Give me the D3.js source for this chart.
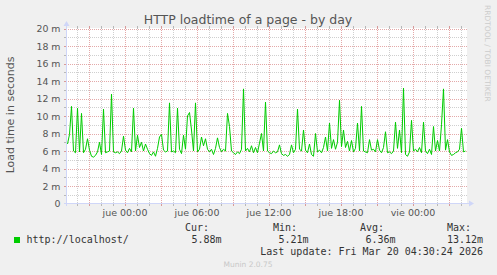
<!DOCTYPE html>
<html>
<head>
<meta charset="utf-8">
<script src="https://cdn.jsdelivr.net/npm/d3@7"></script>
<style>
  body { margin: 0; background: #f0f0f0; }
  svg { display: block; }
  text { font-family: "DejaVu Sans", sans-serif; }
  .mono { font-family: "DejaVu Sans Mono", monospace; }
</style>
</head>
<body>
<svg id="chart" width="497" height="275"></svg>
<script>
// load time in milliseconds, one sample per 10 minutes
const loadtime = [
  6.8, 7.9, 11.1, 6.0, 5.8, 10.9, 5.9, 10.3, 5.8, 6.2,
  7.4, 6.1, 5.4, 5.3, 5.5, 5.9, 7.0, 5.6, 10.8, 5.8,
  5.9, 6.0, 12.5, 5.9, 5.8, 5.9, 5.7, 6.0, 7.7, 6.1,
  5.8, 6.3, 5.9, 10.9, 6.0, 7.8, 6.4, 7.0, 6.0, 6.8,
  6.2, 5.7, 5.5, 5.9, 5.4, 6.3, 7.6, 7.9, 6.1, 5.9,
  6.0, 11.5, 5.9, 6.0, 5.8, 10.9, 6.2, 5.7, 7.8, 6.2,
  10.0, 10.4, 8.4, 6.0, 11.5, 5.9, 6.2, 7.6, 6.6, 7.4,
  6.2, 5.9, 6.2, 5.6, 6.3, 7.5, 6.4, 5.9, 6.2, 6.0,
  10.3, 8.8, 6.0, 5.8, 5.6, 5.9, 5.7, 6.2, 13.1, 6.0,
  6.3, 5.9, 6.6, 5.8, 6.4, 5.8, 6.9, 8.0, 6.0, 11.6,
  6.0, 5.8, 5.7, 6.0, 5.8, 5.9, 6.7, 5.7, 5.5, 5.6,
  5.4, 5.6, 6.7, 5.8, 6.2, 10.8, 6.2, 6.0, 8.4, 6.1,
  5.8, 6.8, 5.6, 5.4, 8.0, 5.9, 6.1, 5.8, 6.4, 7.6,
  6.0, 9.2, 6.3, 7.3, 6.2, 7.0, 11.8, 6.5, 8.4, 6.4,
  7.1, 6.0, 7.2, 5.9, 6.3, 9.2, 6.0, 11.1, 6.0, 5.9,
  5.8, 7.3, 6.1, 6.2, 5.9, 7.3, 6.1, 5.8, 6.4, 8.2,
  5.8, 5.9, 5.7, 6.0, 9.3, 6.3, 8.4, 5.8, 13.2, 5.6,
  5.4, 5.9, 9.5, 6.0, 6.2, 5.9, 6.4, 5.8, 9.3, 6.0,
  5.7, 6.2, 5.6, 8.8, 6.0, 7.2, 6.0, 9.0, 13.1, 6.1,
  7.3, 5.9, 5.5, 5.6, 5.8, 5.9, 6.2, 8.6, 5.9, 6.0
]
const stepMinutes = 10
const yTicks = [0, 2, 4, 6, 8, 10, 12, 14, 16, 18, 20]
const xTickLabels = ['jue 00:00', 'jue 06:00', 'jue 12:00', 'jue 18:00', 'vie 00:00']
const legendHeads = ['Cur:', 'Min:', 'Avg:', 'Max:']
const legendValues = ['5.88m', '5.21m', '6.36m', '13.12m']

const endTime = new Date(2026, 2, 20, 4, 35)
const startTime = new Date(+endTime - 400 * 5 * 60000)
const points = loadtime.map((v, i) => ({ t: new Date(+startTime + i * stepMinutes * 60000), v }))

const svg = d3.select('#chart')
const pLeft = 67, pRight = 467, pTop = 28, pBottom = 203

const x = d3.scaleTime().domain([startTime, endTime]).range([pLeft + 0.5, pRight + 0.5])
const y = d3.scaleLinear().domain([0, 20]).range([pBottom + 0.5, pTop + 0.5])

svg.append('rect').attr('width', 497).attr('height', 275).attr('fill', '#f0f0f0')
svg.append('rect').attr('x', pLeft).attr('y', pTop).attr('width', pRight - pLeft).attr('height', pBottom - pTop + 1).attr('fill', '#fff')

// grid: dotted lines plus short solid ticks at the ends
const gridStyle = (g, color) => {
  g.select('.domain').remove()
  g.selectAll('.tick line').attr('stroke', color).attr('stroke-dasharray', '1,1').attr('shape-rendering', 'crispEdges')
  g.selectAll('.tick text').remove()
}
const tickStyle = (g, color) => {
  g.select('.domain').remove()
  g.selectAll('.tick line').attr('stroke', color).attr('shape-rendering', 'crispEdges')
  g.selectAll('.tick text').remove()
}
const minorY = d3.range(1, 20, 2)
const hourTicks = d3.timeHour.range(startTime, endTime)
const minorX = hourTicks.filter(d => d.getHours() % 3)
const majorX = hourTicks.filter(d => d.getHours() % 3 === 0)

const addGrid = (yVals, xVals, color, tickColor) => {
  svg.append('g').attr('transform', `translate(${pRight},0)`)
    .call(d3.axisLeft(y).tickValues(yVals).tickSize(pRight - 64))
    .call(gridStyle, color)
  svg.append('g').attr('transform', `translate(0,${pTop})`)
    .call(d3.axisBottom(x).tickValues(xVals).tickSize(pBottom + 3 - pTop))
    .call(gridStyle, color)
  svg.append('g').attr('transform', `translate(${pLeft},0)`)
    .call(d3.axisLeft(y).tickValues(yVals).tickSize(3))
    .call(tickStyle, tickColor)
  svg.append('g').attr('transform', `translate(0,${pTop - 2})`)
    .call(d3.axisBottom(x).tickValues(xVals).tickSize(3))
    .call(tickStyle, tickColor)
  svg.append('g').attr('transform', `translate(0,${pBottom})`)
    .call(d3.axisBottom(x).tickValues(xVals).tickSize(3))
    .call(tickStyle, tickColor)
}
addGrid(minorY, minorX, '#cfcfcf', '#b8b8b8')
addGrid(yTicks.slice(1), majorX, '#e4a9a9', '#d99a9a')

// data line
svg.append('path').datum(points)
  .attr('fill', 'none').attr('stroke', '#00cc00').attr('stroke-width', 1)
  .attr('d', d3.line().x(d => x(d.t)).y(d => y(d.v)))

// axes lines with arrows
const axisColor = '#cfd6f8'
svg.append('line').attr('x1', 64).attr('x2', pRight + 3).attr('y1', pBottom + 0.5).attr('y2', pBottom + 0.5).attr('stroke', axisColor)
svg.append('line').attr('x1', pLeft - 0.5).attr('x2', pLeft - 0.5).attr('y1', pBottom + 3).attr('y2', pTop - 3).attr('stroke', axisColor)
svg.append('path').attr('d', `M${pRight + 2},${pBottom - 2.5}L${pRight + 7},${pBottom + 0.5}L${pRight + 2},${pBottom + 3.5}Z`).attr('fill', axisColor)
svg.append('path').attr('d', `M${pLeft - 3.5},${pTop - 2}L${pLeft - 0.5},${pTop - 7}L${pLeft + 2.5},${pTop - 2}Z`).attr('fill', axisColor)

// tick labels
const yAxis = svg.append('g').attr('transform', `translate(${pLeft},0)`)
  .call(d3.axisLeft(y).tickValues(yTicks).tickSize(0).tickPadding(6.5).tickFormat(v => v === 0 ? '0' : v + ' m'))
yAxis.select('.domain').remove()
yAxis.selectAll('text').attr('fill', '#555').style('font-size', '9.4px').style('font-family', 'DejaVu Sans')

const labelDates = xTickLabels.map((s, i) => new Date(2026, 2, 19, i * 6))
const xAxis = svg.append('g').attr('transform', `translate(0,${pBottom})`)
  .call(d3.axisBottom(x).tickValues(labelDates).tickSize(0).tickPadding(6).tickFormat((d, i) => xTickLabels[i]))
xAxis.select('.domain').remove()
xAxis.selectAll('text').attr('fill', '#555').style('font-size', '9.5px').style('font-family', 'DejaVu Sans')

// title and labels
svg.append('text').attr('x', 248).attr('y', 24).attr('text-anchor', 'middle')
  .attr('fill', '#555').style('font-size', '12.5px').text('HTTP loadtime of a page - by day')
svg.append('text').attr('transform', 'translate(14,115) rotate(-90)').attr('text-anchor', 'middle')
  .attr('fill', '#555').style('font-size', '11px').text('Load time in seconds')
svg.append('text').attr('transform', 'translate(485,5) rotate(90)')
  .attr('fill', '#ccc').style('font-size', '7.5px').text('RRDTOOL / TOBI OETIKER')

// legend
svg.append('rect').attr('x', 14).attr('y', 237).attr('width', 6).attr('height', 6).attr('fill', '#00cc00')
svg.append('text').attr('class', 'mono').attr('x', 26.5).attr('y', 243)
  .attr('fill', '#333').style('font-size', '10px').text('http://localhost/')
const headX = [185, 273, 360, 447]
const valX = [221.5, 308.5, 395.5, 483]
svg.selectAll('text.head').data(legendHeads).join('text')
  .attr('class', 'head mono').attr('x', (d, i) => headX[i]).attr('y', 231)
  .attr('fill', '#333').style('font-size', '10px').text(d => d)
svg.selectAll('text.val').data(legendValues).join('text')
  .attr('class', 'val mono').attr('x', (d, i) => valX[i]).attr('y', 243).attr('text-anchor', 'end')
  .attr('fill', '#333').style('font-size', '10px').text(d => d)
svg.append('text').attr('class', 'mono').attr('x', 483).attr('y', 255).attr('text-anchor', 'end')
  .attr('fill', '#333').style('font-size', '10px').text('Last update: Fri Mar 20 04:30:24 2026')
svg.append('text').attr('x', 248).attr('y', 267).attr('text-anchor', 'middle')
  .attr('fill', '#c8c8c8').style('font-size', '7.5px').text('Munin 2.0.75')
</script>
</body>
</html>
